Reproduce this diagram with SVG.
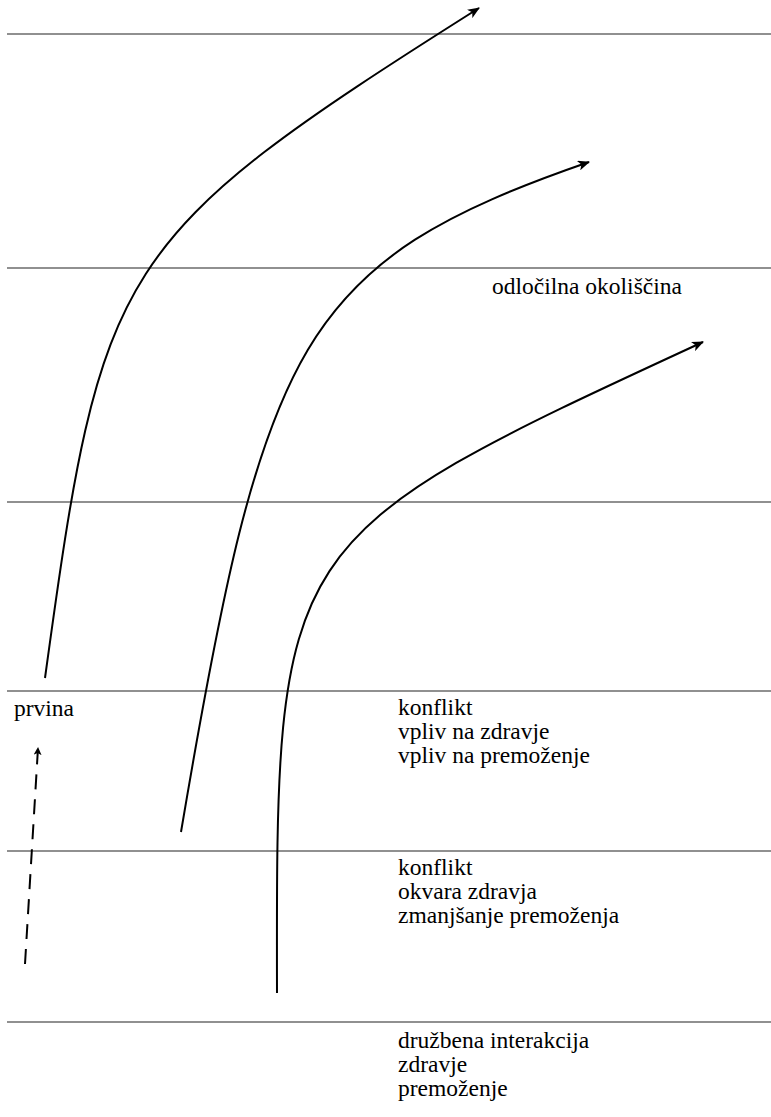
<svg xmlns="http://www.w3.org/2000/svg" width="771" height="1117" viewBox="0 0 771 1117">
  <style>
    .band { stroke: #222; stroke-width: 1.2; fill: none; }
    .flow { stroke: #000; stroke-width: 2; fill: none; }
    .dash { stroke: #000; stroke-width: 2; fill: none; stroke-dasharray: 15 10; }
    .lbl { font-family: "Liberation Serif", "Times New Roman", serif; font-size: 23.5px; fill: #000; }
  </style>
  <defs>
    <marker id="head" viewBox="0 0 12 10" refX="11" refY="5" markerWidth="12" markerHeight="10" markerUnits="userSpaceOnUse" orient="auto">
      <path d="M0,0 L12,5 L0,10 L3,5 Z" fill="#000"/>
    </marker>
    <marker id="headSmall" viewBox="0 0 8 8" refX="7" refY="4" markerWidth="8" markerHeight="8" markerUnits="userSpaceOnUse" orient="auto">
      <path d="M0,0 L8,4 L0,8 L2,4 Z" fill="#000"/>
    </marker>
  </defs>

  <rect width="771" height="1117" fill="#fff"/>

  <!-- horizontal band dividers -->
  <g id="bands">
    <line class="band" x1="7" y1="34" x2="771" y2="34"/>
    <line class="band" x1="7" y1="268" x2="771" y2="268"/>
    <line class="band" x1="7" y1="502" x2="771" y2="502"/>
    <line class="band" x1="7" y1="691" x2="771" y2="691"/>
    <line class="band" x1="7" y1="851" x2="771" y2="851"/>
    <line class="band" x1="7" y1="1022" x2="771" y2="1022"/>
  </g>

  <!-- connectors -->
  <g id="connectors">
    <path class="flow" d="M45,678 C102,262 112,240 479,8" marker-end="url(#head)"/>
    <path class="flow" d="M181,832 C264,340 300,262 589,162" marker-end="url(#head)"/>
    <path class="flow" d="M277,993 C276,539 276,539 703,342" marker-end="url(#head)"/>
    <path class="dash" d="M25,964 L38,748" marker-end="url(#headSmall)"/>
  </g>

  <!-- labels -->
  <g id="label-odlocilna">
    <text class="lbl" x="492" y="294">odločilna okoliščina</text>
  </g>
  <g id="label-prvina">
    <text class="lbl" x="14" y="716">prvina</text>
  </g>
  <g id="label-vpliv">
    <text class="lbl" x="398" y="715">konflikt</text>
    <text class="lbl" x="398" y="739">vpliv na zdravje</text>
    <text class="lbl" x="398" y="763">vpliv na premoženje</text>
  </g>
  <g id="label-okvara">
    <text class="lbl" x="398" y="875">konflikt</text>
    <text class="lbl" x="398" y="899">okvara zdravja</text>
    <text class="lbl" x="398" y="923">zmanjšanje premoženja</text>
  </g>
  <g id="label-interakcija">
    <text class="lbl" x="398" y="1048">družbena interakcija</text>
    <text class="lbl" x="398" y="1072">zdravje</text>
    <text class="lbl" x="398" y="1096">premoženje</text>
  </g>
</svg>
